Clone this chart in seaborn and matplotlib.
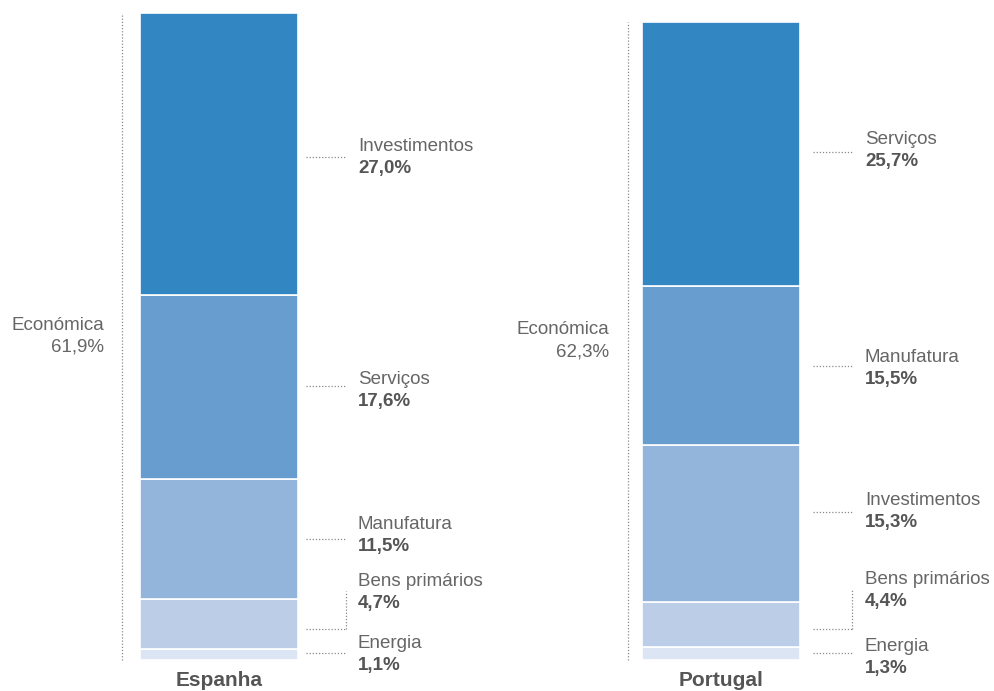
import numpy as np
import pandas as pd
import matplotlib
matplotlib.use("Agg")
import matplotlib.pyplot as plt
import seaborn as sns

# dados (%), do maior para o menor segmento
paises = ["Espanha", "Portugal"]
totais = [61.9, 62.3]
esp_setores = ["Investimentos", "Serviços", "Manufatura", "Bens primários", "Energia"]
esp_valores = [27.0, 17.6, 11.5, 4.7, 1.1]
pt_setores = ["Serviços", "Manufatura", "Investimentos", "Bens primários", "Energia"]
pt_valores = [25.7, 15.5, 15.3, 4.4, 1.3]
grupo = "Económica"

cores = ["#3286c2", "#689dcf", "#93b4db", "#bbcde7", "#dce5f3"]

# ajustes de posição das etiquetas (px, para cima), relativos ao centro do segmento
esp_linha_dy = [-3, 1, 0.5, -5, 1]
esp_texto_dy = [8, 8, 15, 42, 11]
pt_linha_dy = [1.5, -1, 11.5, -4.5, 0]
pt_texto_dy = [14.5, 8, 22.5, 44.5, 7]

sns.set_theme(style="white")
plt.rcParams["font.family"] = ["Liberation Sans", "DejaVu Sans"]

cinza = "#666666"
cinza_forte = "#555555"
pontilhado = dict(color="#8a8a8a", linewidth=0.9, linestyle=(0, (1, 1.5)), clip_on=False)

W, H = 994, 691
fig = plt.figure(figsize=(W / 100, H / 100), dpi=100)

# caixas dos eixos em px: (esquerda, direita, topo, base)
caixas = [(140, 298, 13, 660), (642, 800, 22, 660)]
# distâncias horizontais em px: colchete, total, início/fim da guia, etiqueta
margens = [(18, 36, 8, 48, 60), (14, 33, 13, 52, 65)]
setores = [esp_setores, pt_setores]
valores = [esp_valores, pt_valores]
linha_dy = [esp_linha_dy, pt_linha_dy]
texto_dy = [esp_texto_dy, pt_texto_dy]

for i, pais in enumerate(paises):
    l, r, t, b = caixas[i]
    m_col, m_tot, g0, g1, m_lab = margens[i]
    ax = fig.add_axes([l / W, 1 - b / H, (r - l) / W, (b - t) / H])
    df = pd.DataFrame({"setor": setores[i], "valor": valores[i]})
    # empilha do menor (base) para o maior (topo)
    df = df.iloc[::-1].reset_index(drop=True)
    df["base"] = df["valor"].cumsum() - df["valor"]
    cores_i = cores[::-1]
    for j, row in df.iterrows():
        sns.barplot(x=[pais], y=[row["valor"]], bottom=row["base"], color=cores_i[j],
                    width=1.0, edgecolor="white", linewidth=1.2, saturation=1, ax=ax)
    topo = df["valor"].sum()
    ax.set_xlim(-0.5, 0.5)
    ax.set_ylim(0, topo)
    ax.axis("off")

    px = (b - t) / topo  # px por unidade
    tr = ax.get_yaxis_transform()
    fx = lambda xp: (xp - l) / (r - l)  # px -> fração do eixo

    # colchete à esquerda e total
    ax.plot([fx(l - m_col)] * 2, [0, topo], transform=tr, **pontilhado)
    ax.text(fx(l - m_tot), topo / 2 + 11 / px, grupo, transform=tr, ha="right", va="center",
            fontsize=13.5, color=cinza)
    ax.text(fx(l - m_tot), topo / 2 - 11 / px, f"{totais[i]:.1f}%".replace(".", ","),
            transform=tr, ha="right", va="center", fontsize=13.5, color=cinza)

    # etiquetas dos segmentos
    df = df.iloc[::-1].reset_index(drop=True)
    for j, row in df.iterrows():
        centro = row["base"] + row["valor"] / 2
        y_lin = centro + linha_dy[i][j] / px
        y_txt = centro + texto_dy[i][j] / px
        ax.plot([fx(r + g0), fx(r + g1)], [y_lin, y_lin], transform=tr, **pontilhado)
        if texto_dy[i][j] - linha_dy[i][j] > 30:
            ax.plot([fx(r + g1)] * 2, [y_lin, y_txt - 9 / px], transform=tr, **pontilhado)
        ax.text(fx(r + m_lab), y_txt, row["setor"], transform=tr, ha="left", va="center",
                fontsize=13.5, color=cinza)
        ax.text(fx(r + m_lab), y_txt - 22 / px, f"{row['valor']:.1f}%".replace(".", ","),
                transform=tr, ha="left", va="center", fontsize=13.5, color=cinza_forte,
                fontweight="bold")

    ax.text(0.5, -20 / (b - t), pais, transform=ax.transAxes, ha="center", va="center",
            fontsize=15, fontweight="bold", color=cinza_forte)

fig.savefig("out.png", dpi=100)
